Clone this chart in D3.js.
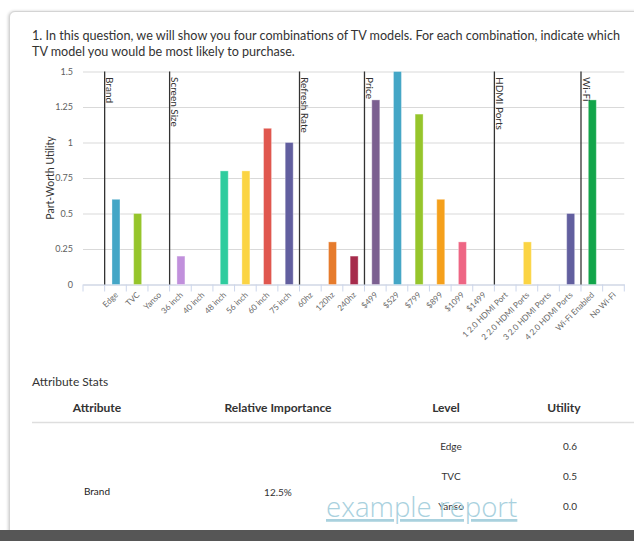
<!DOCTYPE html>
<html>
<head>
<meta charset="utf-8">
<script src="https://cdn.jsdelivr.net/npm/d3@7"></script>
<style>
  html, body { margin: 0; padding: 0; background: #fff; width: 634px; height: 541px; overflow: hidden; }
  #card { position: absolute; left: 9px; top: 11px; width: 690px; height: 560px; border: 1px solid #d4d4d4;
          border-radius: 6px; box-shadow: -1px 0 3px rgba(0,0,0,0.18); background: #fff; }
  #footer { position: absolute; left: 0; top: 530px; width: 634px; height: 11px; background: #565656; }
  svg { position: absolute; left: 0; top: 0; font-family: Lato, "Open Sans", sans-serif; }
</style>
</head>
<body>
<div id="card"></div>
<div id="footer"></div>
<svg id="chart" width="634" height="541"></svg>
<script>
// Question text
const titleLines = [
  "1. In this question, we will show you four combinations of TV models. For each combination, indicate which",
  "TV model you would be most likely to purchase."
];

// Attribute levels (x categories) and their part-worth utilities
const categories = [
  "Edge", "TVC", "Yanso",
  "36 inch", "40 inch", "48 inch", "56 inch", "60 inch", "75 inch",
  "60hz", "120hz", "240hz",
  "$499", "$529", "$799", "$899", "$1099", "$1499",
  "1 2.0 HDMI Port", "2 2.0 HDMI Ports", "3 2.0 HDMI Ports", "4 2.0 HDMI Ports",
  "Wi-Fi Enabled", "No Wi-Fi"
];
const values = [
  0.6, 0.5, 0.0,
  0.2, 0.0, 0.8, 0.8, 1.1, 1.0,
  0.0, 0.3, 0.2,
  1.3, 1.5, 1.2, 0.6, 0.3, 0.0,
  0.0, 0.3, 0.0, 0.5,
  1.3, 0.0
];
const barColors = [
  "#44a6c6", "#96c52b", "#f5a01b",
  "#c190dc", "#2ecc9e", "#2ecc9e", "#fbd443", "#e0574e", "#625f9f",
  "#12a54a", "#e67b2c", "#a62b4b",
  "#7b5f90", "#44a6c6", "#96c52b", "#f5a01b", "#ee6684", "#c190dc",
  "#2ecc9e", "#fbd443", "#e0574e", "#625f9f",
  "#12a54a", "#e67b2c"
];

// Attribute groups: name and first level of each group
const groupNames = ["Brand", "Screen Size", "Refresh Rate", "Price", "HDMI Ports", "Wi-Fi"];
const groupStarts = ["Edge", "36 inch", "60hz", "$499", "1 2.0 HDMI Port", "Wi-Fi Enabled"];

// Y axis
const yTicks = [0, 0.25, 0.5, 0.75, 1, 1.25, 1.5];
const yAxisTitle = "Part-Worth Utility";

// Attribute stats table
const tableTitle = "Attribute Stats";
const tableHeaders = ["Attribute", "Relative Importance", "Level", "Utility"];
const tableAttribute = "Brand";
const tableImportance = "12.5%";
const tableLevelCount = 3;
const watermark = "example report";

const svg = d3.select("#chart");
const textColor = "#333";

// Title
svg.append("g").selectAll("text").data(titleLines).join("text")
  .attr("x", 32).attr("y", (d, i) => 39.5 + i * 16)
  .attr("font-size", 12.6).attr("fill", textColor).text(d => d);

// Scales (first slot of the band scale is an empty category)
const plotLeft = 83, plotRight = 624.3;
const x = d3.scaleBand().domain(["", ...categories]).range([plotLeft, plotRight]).padding(0);
const y = d3.scaleLinear().domain([0, 1.5]).range([284.5, 71.5]);

// Y grid + labels
const yAxis = svg.append("g").attr("transform", `translate(${plotLeft},0)`)
  .call(d3.axisLeft(y).tickValues(yTicks).tickSize(-(plotRight - plotLeft)).tickPadding(10).tickFormat(d => String(d)));
yAxis.select(".domain").remove();
yAxis.selectAll(".tick line").attr("stroke", "#d9d9d9");
yAxis.selectAll(".tick text").attr("font-size", 9).attr("fill", "#606060").attr("font-family", "Lato, sans-serif");

// Y axis title
svg.append("text")
  .attr("transform", `translate(50,${(y(0) + y(1.5)) / 2}) rotate(-90)`)
  .attr("text-anchor", "middle").attr("dominant-baseline", "central")
  .attr("font-size", 10.5).attr("fill", textColor).text(yAxisTitle);

// X axis: ticks on band boundaries, rotated labels
const step = x.step();
const xAxis = svg.append("g").attr("transform", `translate(0,${y(0)})`)
  .call(d3.axisBottom(x).tickSize(7).tickSizeOuter(0));
xAxis.select(".domain").attr("stroke", "#ccd6eb");
xAxis.selectAll(".tick line").attr("stroke", "#ccd6eb").attr("transform", `translate(${-step / 2},0)`);
xAxis.append("line").attr("x1", plotRight).attr("x2", plotRight).attr("y1", 0).attr("y2", 7).attr("stroke", "#ccd6eb");
xAxis.selectAll(".tick text")
  .attr("x", 0).attr("y", 0).attr("dy", 0)
  .attr("transform", "translate(3,11) rotate(-45)")
  .attr("text-anchor", "end").attr("font-size", 8.2).attr("fill", "#6a6a6a")
  .attr("font-family", "Lato, sans-serif");

// Bars
const barW = 8;
svg.append("g").selectAll("rect")
  .data(categories.map((c, i) => ({ c, v: values[i], color: barColors[i] })).filter(d => d.v > 0))
  .join("rect")
  .attr("x", d => x(d.c) + x.bandwidth() / 2 - barW / 2 + 0.5)
  .attr("y", d => y(d.v))
  .attr("width", barW)
  .attr("height", d => y(0) - y(d.v))
  .attr("fill", d => d.color)
  .attr("stroke", "rgba(255,255,255,0.35)").attr("stroke-width", 1);

// Group separator lines with rotated labels
const groups = groupNames.map((name, i) => ({ name, x: x(groupStarts[i]) }));
const gLines = svg.append("g");
gLines.selectAll("line").data(groups).join("line")
  .attr("x1", d => d.x).attr("x2", d => d.x)
  .attr("y1", y(1.5)).attr("y2", y(0))
  .attr("stroke", "#333").attr("stroke-width", 1.3);
gLines.selectAll("text").data(groups).join("text")
  .attr("transform", d => `translate(${d.x + 1.8},${y(1.5) + 5.5}) rotate(90)`)
  .attr("font-size", 10).attr("fill", textColor).text(d => d.name);

// Attribute stats table
svg.append("text").attr("x", 32).attr("y", 386).attr("font-size", 12).attr("fill", textColor).text(tableTitle);
const headerX = [97, 278, 446, 564];
svg.append("g").selectAll("text").data(tableHeaders).join("text")
  .attr("x", (d, i) => headerX[i]).attr("y", 412.3)
  .attr("text-anchor", "middle").attr("font-size", 12).attr("font-weight", "bold")
  .attr("fill", textColor).text(d => d);
svg.append("line").attr("x1", 32).attr("x2", 634).attr("y1", 422.5).attr("y2", 422.5)
  .attr("stroke", "#dedede").attr("stroke-width", 1.5);

svg.append("text").attr("x", 97).attr("y", 494.6).attr("text-anchor", "middle")
  .attr("font-size", 10).attr("fill", "#222").text(tableAttribute);
svg.append("text").attr("x", 278).attr("y", 495.5).attr("text-anchor", "middle")
  .attr("font-size", 10).attr("fill", textColor).text(tableImportance);

const rows = categories.slice(0, tableLevelCount).map((c, i) => ({ level: c, utility: values[i] }));
const rowG = svg.append("g").selectAll("g").data(rows).join("g")
  .attr("transform", (d, i) => `translate(0,${449.6 + i * 30})`);
rowG.append("text").attr("x", 451).attr("text-anchor", "middle").attr("font-size", 10)
  .attr("fill", textColor).text(d => d.level);
rowG.append("text").attr("x", 570).attr("text-anchor", "middle").attr("font-size", 10)
  .attr("fill", textColor).text(d => d3.format(".1f")(d.utility));

// Watermark
svg.append("text").attr("x", 326).attr("y", 517)
  .attr("font-family", "'Open Sans', sans-serif").attr("font-weight", 300)
  .attr("font-size", 27.6).attr("fill", "#a9d1de")
  .style("text-decoration", "underline").text(watermark);
</script>
</body>
</html>
